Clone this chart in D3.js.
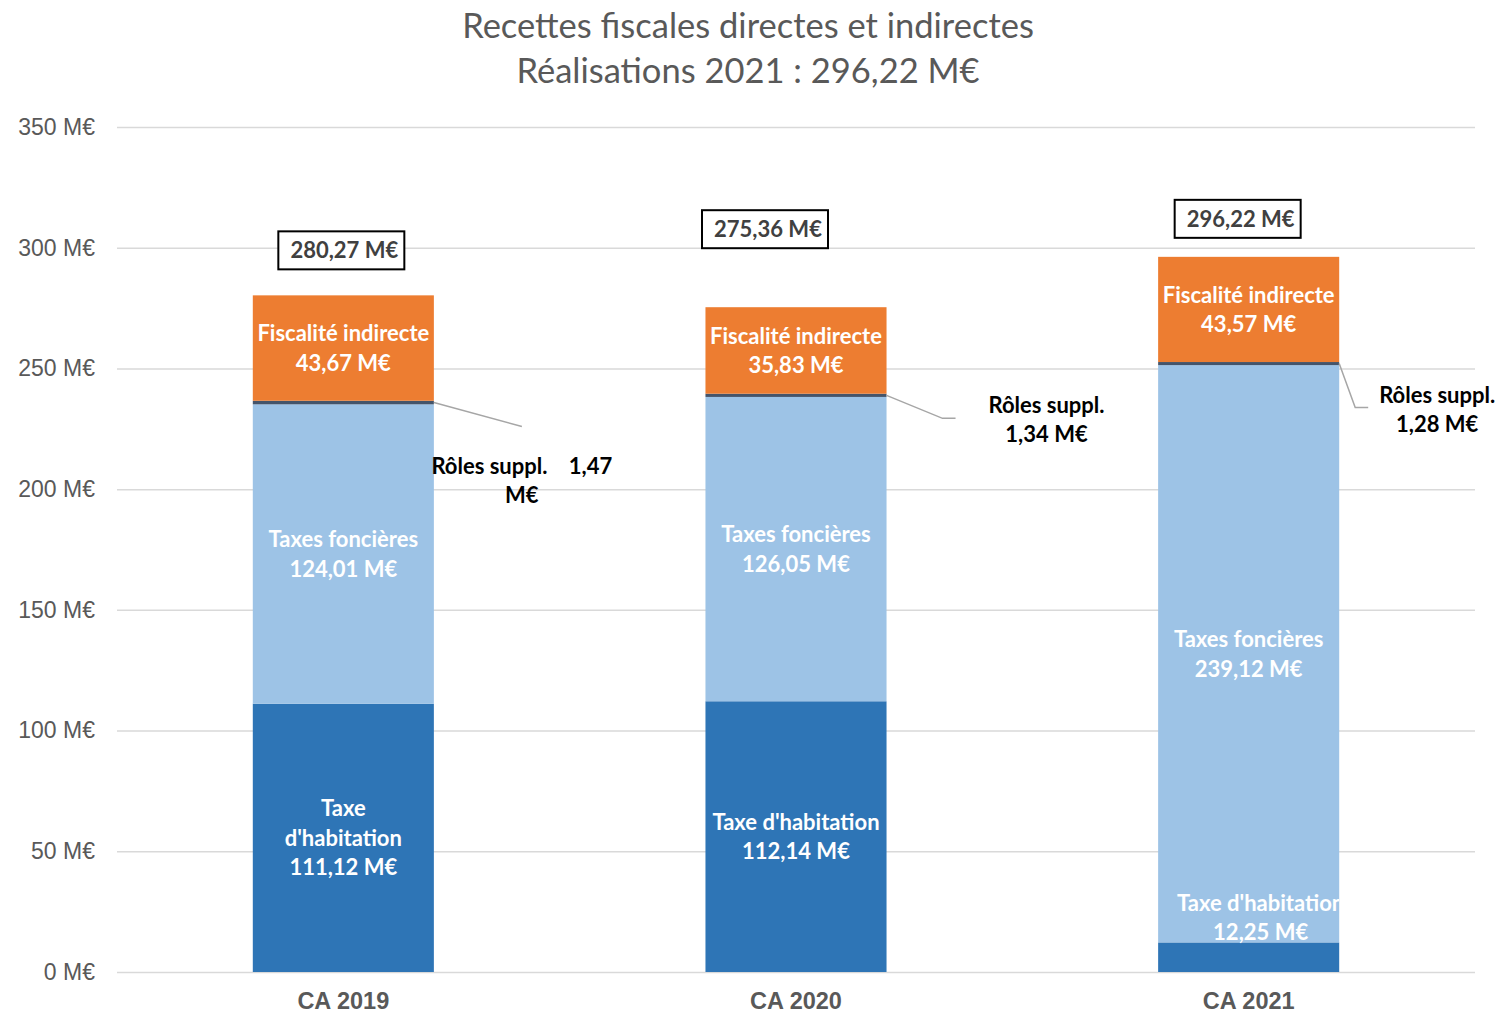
<!DOCTYPE html>
<html>
<head>
<meta charset="utf-8">
<script src="https://cdn.jsdelivr.net/npm/d3@7"></script>
<style>
  body { margin: 0; background: #fff; }
  svg { display: block; }
</style>
</head>
<body>
<div id="chart"></div>
<script>
const categories = ['CA 2019', 'CA 2020', 'CA 2021']
const habitation = [111.12, 112.14, 12.25]
const foncieres = [124.01, 126.05, 239.12]
const roles = [1.47, 1.34, 1.28]
const indirecte = [43.67, 35.83, 43.57]
const totals = [280.27, 275.36, 296.22]
const yTicks = [0, 50, 100, 150, 200, 250, 300, 350]

// manual label placement, as in the original workbook
const totalOffsets = [[-2, -45], [-31, -78], [-11, -38]]
const rolesLabelOffsets = [[88, 78], [160, 24], [98, 46]]
const rolesLineEnds = [[[88, 24]], [[56, 23], [69, 23]], [[16, 44], [29, 44]]]

const W = 1496, H = 1013
const margin = { left: 117, right: 21, top: 127, bottom: 41 }

const fmt = v => v.toFixed(2).replace('.', ',') + ' M€'
const calibri = 'Lato, "Noto Sans", sans-serif'
const arial = '"Liberation Sans", Arial, sans-serif'

const svg = d3.select('#chart')
  .append('svg')
  .attr('width', W)
  .attr('height', H)

// title
const titleLines = ['Recettes fiscales directes et indirectes', 'Réalisations 2021 : 296,22 M€']
svg.append('g')
  .selectAll('text')
  .data(titleLines)
  .join('text')
  .attr('x', 748)
  .attr('y', (d, i) => 38 + i * 45)
  .attr('text-anchor', 'middle')
  .attr('font-family', calibri)
  .attr('font-size', '34.5px')
  .attr('fill', '#595959')
  .text(d => d)

const x = d3.scaleBand()
  .domain(categories)
  .range([margin.left, W - margin.right])
  .paddingInner(0.6)
  .paddingOuter(0.3)

const y = d3.scaleLinear()
  .domain([0, 350])
  .range([H - margin.bottom, margin.top])

// gridlines + y labels
const yAxis = svg.append('g')
  .attr('transform', `translate(${margin.left}, 0)`)
  .call(d3.axisLeft(y).tickValues(yTicks)
    .tickSize(-(W - margin.left - margin.right))
    .tickPadding(22)
    .tickFormat(d => `${d} M€`))
yAxis.select('.domain').remove()
yAxis.selectAll('.tick line').attr('stroke', '#d9d9d9').attr('stroke-width', 1.5)
yAxis.selectAll('.tick text')
  .attr('font-family', arial)
  .attr('font-size', '23px')
  .attr('fill', '#595959')

// stack
const series = [
  { key: 'hab', values: habitation, color: '#2e75b6' },
  { key: 'fon', values: foncieres, color: '#9dc3e6' },
  { key: 'rol', values: roles, color: '#44546a' },
  { key: 'ind', values: indirecte, color: '#ed7d31' },
]
const rows = categories.map((c, i) => {
  const r = { cat: c, i }
  series.forEach(s => { r[s.key] = s.values[i] })
  return r
})
const stacked = d3.stack().keys(series.map(s => s.key))(rows)

const defs = svg.append('defs')
categories.forEach((c, i) => {
  defs.append('clipPath').attr('id', `clip${i}`)
    .append('rect')
    .attr('x', x(c)).attr('y', 0)
    .attr('width', x.bandwidth()).attr('height', H)
})

const layers = svg.append('g').selectAll('g')
  .data(stacked)
  .join('g')
  .attr('fill', (d, i) => series[i].color)

layers.selectAll('rect')
  .data(d => d)
  .join('rect')
  .attr('x', d => x(d.data.cat))
  .attr('width', x.bandwidth())
  .attr('y', d => y(d[1]))
  .attr('height', d => y(d[0]) - y(d[1]))

// x category labels
svg.append('g')
  .selectAll('text')
  .data(categories)
  .join('text')
  .attr('x', d => x(d) + x.bandwidth() / 2)
  .attr('y', H - margin.bottom + 37)
  .attr('text-anchor', 'middle')
  .attr('font-family', arial)
  .attr('font-weight', 'bold')
  .attr('font-size', '23.5px')
  .attr('fill', '#595959')
  .text(d => d)

// inside labels
function multiline(g, lines, cx, cy, color, lh) {
  const t = g.append('text')
    .attr('text-anchor', 'middle')
    .attr('font-family', calibri)
    .attr('font-weight', 'bold')
    .attr('font-size', '22px')
    .attr('fill', color)
  lines.forEach((l, k) => {
    t.append('tspan')
      .attr('x', cx)
      .attr('y', cy + (k - (lines.length - 1) / 2) * lh + 8)
      .text(l)
  })
  return t
}

const inner = svg.append('g')
const habLines = [
  v => ['Taxe', "d'habitation", fmt(v)],
  v => ["Taxe d'habitation", fmt(v)],
  v => ["Taxe d'habitation", fmt(v)],
]
categories.forEach((c, i) => {
  const cx = x(c) + x.bandwidth() / 2
  const g = inner.append('g').attr('clip-path', `url(#clip${i})`)
  const sHab = stacked[0][i], sFon = stacked[1][i], sInd = stacked[3][i]
  // habitation: small segment gets its label above it
  const habCy = (y(sHab[0]) - y(sHab[1])) > 60
    ? (y(sHab[0]) + y(sHab[1])) / 2
    : y(sHab[1]) - 25
  multiline(g, habLines[i](habitation[i]), cx + (i === 2 ? 12 : 0), habCy, '#fff', 29.5)
  multiline(g, ['Taxes foncières', fmt(foncieres[i])], cx, (y(sFon[0]) + y(sFon[1])) / 2, '#fff', 29.5)
  multiline(g, ['Fiscalité indirecte', fmt(indirecte[i])], cx, (y(sInd[0]) + y(sInd[1])) / 2, '#fff', 29.5)
})

// Rôles suppl. callouts
const rolesText = [
  v => ['Rôles suppl.\u00a0\u00a0\u00a0\u00a0' + fmt(v).replace(' M€', ''), 'M€'],
  v => ['Rôles suppl.', fmt(v)],
  v => ['Rôles suppl.', fmt(v)],
]
const callouts = svg.append('g')
categories.forEach((c, i) => {
  const s = stacked[2][i]
  const x0 = x(c) + x.bandwidth()
  const y0 = (y(s[0]) + y(s[1])) / 2
  const pts = [[x0, y0]].concat(rolesLineEnds[i].map(p => [x0 + p[0], y0 + p[1]]))
  callouts.append('path')
    .attr('d', d3.line()(pts))
    .attr('fill', 'none')
    .attr('stroke', '#a6a6a6')
    .attr('stroke-width', 1.5)
  multiline(callouts, rolesText[i](roles[i]),
    x0 + rolesLabelOffsets[i][0], y0 + rolesLabelOffsets[i][1], '#000', 29)
})

// total boxes
const totalG = svg.append('g')
categories.forEach((c, i) => {
  const cx = x(c) + x.bandwidth() / 2 + totalOffsets[i][0]
  const cy = y(totals[i]) + totalOffsets[i][1]
  totalG.append('rect')
    .attr('x', cx - 63)
    .attr('y', cy - 19)
    .attr('width', 126)
    .attr('height', 38)
    .attr('fill', '#fff')
    .attr('stroke', '#000')
    .attr('stroke-width', 2)
  totalG.append('text')
    .attr('x', cx + 3)
    .attr('y', cy + 8)
    .attr('text-anchor', 'middle')
    .attr('font-family', calibri)
    .attr('font-weight', 'bold')
    .attr('font-size', '22px')
    .attr('fill', '#404040')
    .text(fmt(totals[i]))
})
</script>
</body>
</html>
